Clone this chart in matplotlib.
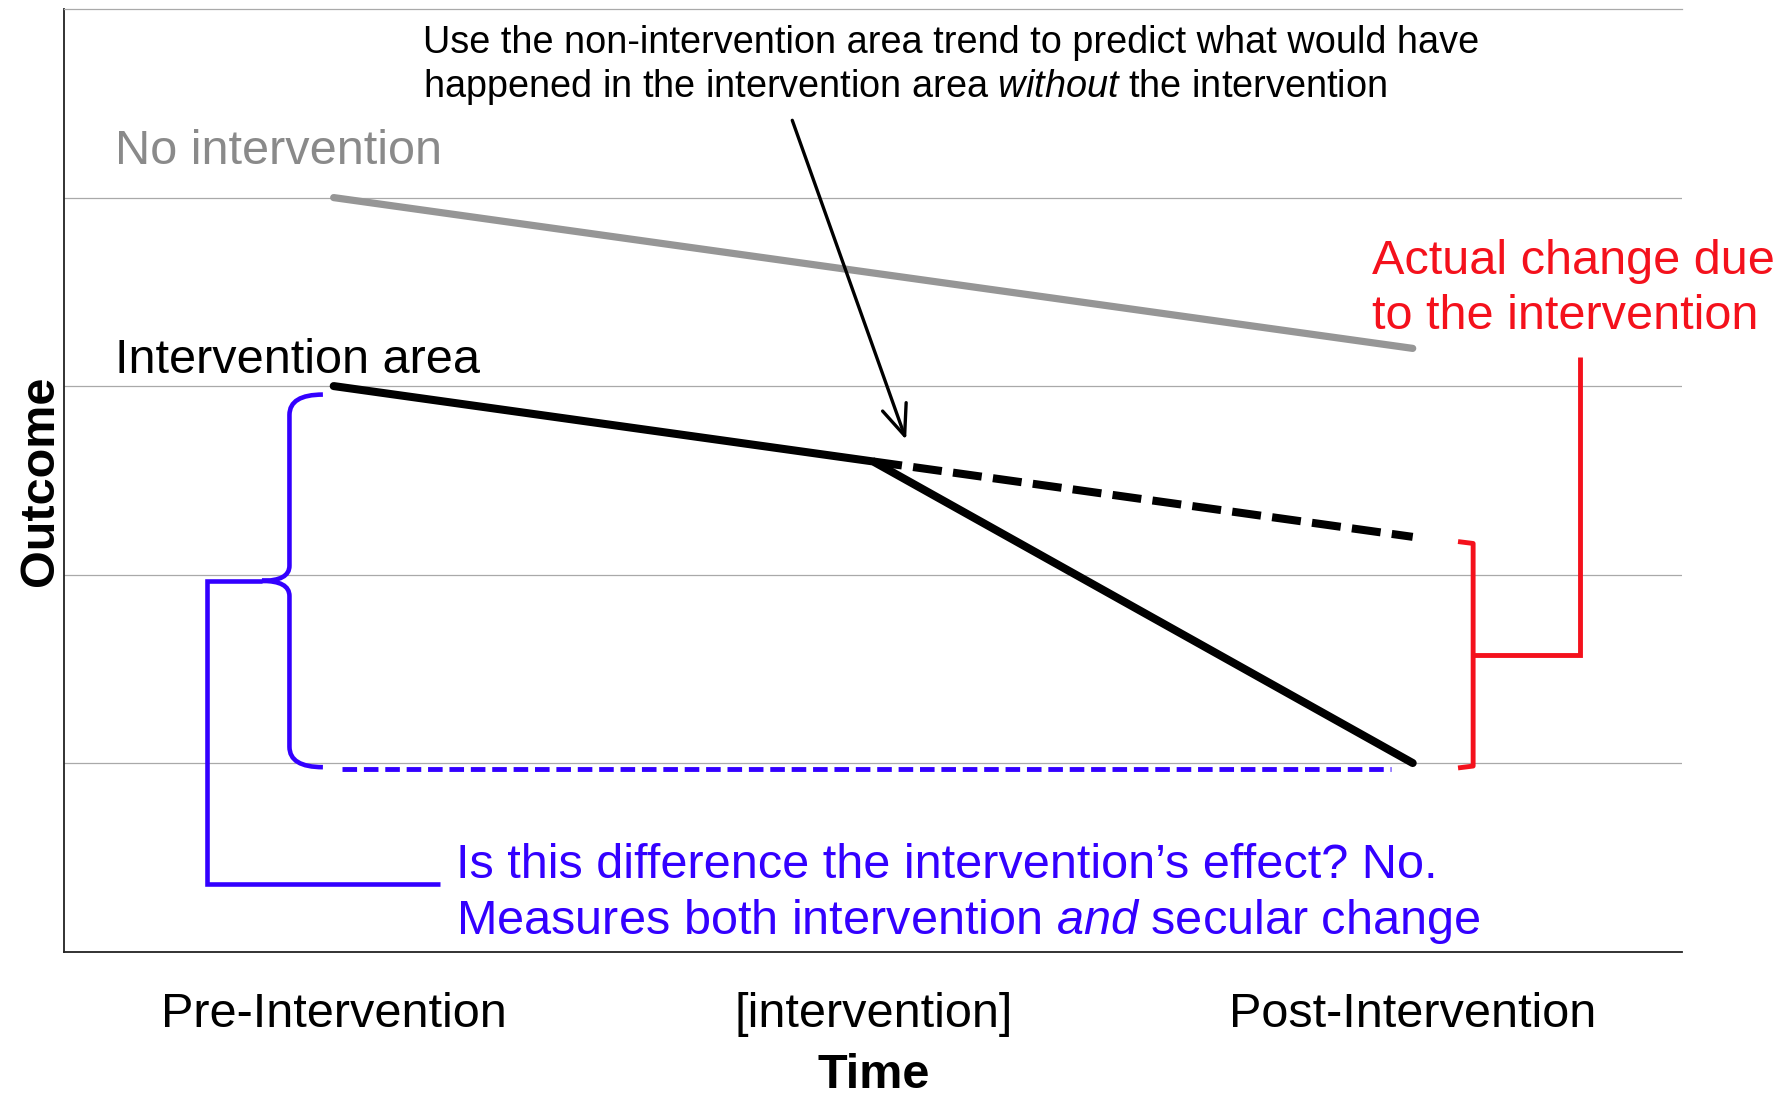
import matplotlib.pyplot as plt
from matplotlib.path import Path
from matplotlib.patches import PathPatch

plt.rcParams['font.family'] = ['Liberation Sans', 'DejaVu Sans']
plt.rcParams['mathtext.fontset'] = 'custom'
plt.rcParams['mathtext.rm'] = 'Liberation Sans'
plt.rcParams['mathtext.it'] = 'Liberation Sans:italic'

# ---------------- data ----------------
time_labels = ['Pre-Intervention', '[intervention]', 'Post-Intervention']
time_pos = [0, 1, 2]

no_intervention = [4.0, 3.6, 3.2]        # comparison area trend
intervention_area = [3.0, 2.6, 1.0]      # observed in the intervention area
counterfactual_pos = [1, 2]
counterfactual = [2.6, 2.2]              # predicted without the intervention

pre_post_pos = [0.015, 1.96]             # dashed level of the post value
pre_post_level = [0.97, 0.97]

# ---------------- style ----------------
GRID = '#a9a9a9'
GRAY_LINE = '#969696'
GRAY_TEXT = '#8a8a8a'
BLUE = '#3300ff'
RED = '#f4111c'
BIG = 35

fig = plt.figure(figsize=(17.91, 10.99), dpi=100)
ax = fig.add_axes([0.0357, 0.1342, 0.9037, 0.8575])
ax.set_xlim(-0.5, 2.5)
ax.set_ylim(0, 5)

ax.set_yticks([1, 2, 3, 4])
ax.yaxis.grid(True, color=GRID, lw=0.9)
ax.set_axisbelow(True)
ax.tick_params(axis='y', length=0, labelleft=False)
ax.set_xticks(time_pos)
ax.set_xticklabels(time_labels, fontsize=BIG)
ax.tick_params(axis='x', length=0, pad=29)

ax.spines['right'].set_visible(False)
ax.spines['top'].set_color(GRID)
ax.spines['top'].set_linewidth(0.9)
for side in ['left', 'bottom']:
    ax.spines[side].set_color('#222222')
    ax.spines[side].set_linewidth(1.3)

ax.set_xlabel('Time', fontsize=BIG, fontweight='bold', labelpad=12)
ax.set_ylabel('Outcome', fontsize=BIG, fontweight='bold', labelpad=1)

# ---------------- lines ----------------
ax.plot(time_pos, no_intervention, color=GRAY_LINE, lw=5.2, solid_capstyle='round')
ax.plot(time_pos, intervention_area, color='black', lw=5.8,
        solid_capstyle='round', solid_joinstyle='miter')
ax.plot(counterfactual_pos, counterfactual, color='black', lw=5.8,
        dashes=(3.6, 1.4), dash_capstyle='butt')
ax.plot(pre_post_pos, pre_post_level, color=BLUE, lw=3.5,
        dashes=(3.0, 1.4), dash_capstyle='butt')


# ---------------- braces and brackets ----------------
def curly_brace(ax, x, y_top, y_mid, y_bot, arm, tip, r_end, r_mid, **kw):
    verts = [(x + arm, y_top), (x, y_top), (x, y_top - r_end),
             (x, y_mid + r_mid), (x, y_mid), (x - tip, y_mid),
             (x, y_mid), (x, y_mid - r_mid),
             (x, y_bot + r_end), (x, y_bot), (x + arm, y_bot)]
    codes = [Path.MOVETO, Path.CURVE3, Path.CURVE3, Path.LINETO,
             Path.CURVE3, Path.CURVE3, Path.CURVE3, Path.CURVE3,
             Path.LINETO, Path.CURVE3, Path.CURVE3]
    ax.add_patch(PathPatch(Path(verts, codes), fill=False, **kw))


brace_x = -0.082
brace_top = intervention_area[0] - 0.045
brace_bot = pre_post_level[0] + 0.008
brace_mid = (brace_top + brace_bot) / 2
brace_tip = 0.051
curly_brace(ax, brace_x, brace_top, brace_mid, brace_bot, arm=0.062, tip=brace_tip,
            r_end=0.108, r_mid=0.08, color=BLUE, lw=3.3)

# blue bracket to the question text
ax.plot([brace_x - brace_tip, -0.234, -0.234, 0.197],
        [brace_mid, brace_mid, 0.36, 0.36],
        color=BLUE, lw=3.3, solid_joinstyle='miter', solid_capstyle='butt')

# red bracket: difference between counterfactual and observed post values
red_x = 2.112
red_top = counterfactual[-1] - 0.025
red_bot = intervention_area[-1] - 0.026
red_mid = (red_top + red_bot) / 2
ax.plot([red_x - 0.028, red_x, red_x, red_x - 0.028],
        [red_top, red_top - 0.01, red_bot + 0.01, red_bot],
        color=RED, lw=3.5, solid_joinstyle='round', solid_capstyle='butt')
ax.plot([red_x, 2.310, 2.310], [red_mid, red_mid, 3.153],
        color=RED, lw=3.5, solid_joinstyle='miter', solid_capstyle='butt')

# ---------------- text ----------------
ax.text(0.166, 4.765, 'Use the non-intervention area trend to predict what would have',
        fontsize=27.3, va='baseline')
ax.text(0.166, 4.532, r'happened in the intervention area $\mathit{without}$ the intervention',
        fontsize=27.3, va='baseline')
ax.annotate('', xy=(1.061, 2.715), xytext=(0.85, 4.41),
            arrowprops=dict(arrowstyle='->,head_length=1.1,head_width=0.45',
                            lw=2.4, color='black', shrinkA=0, shrinkB=0,
                            mutation_scale=20))

ax.text(-0.406, 4.177, 'No intervention', color=GRAY_TEXT, fontsize=BIG, va='baseline')
ax.text(-0.406, 3.071, 'Intervention area', color='black', fontsize=BIG, va='baseline')

ax.text(1.924, 3.593, 'Actual change due', color=RED, fontsize=BIG,
        va='baseline', clip_on=False)
ax.text(1.924, 3.301, 'to the intervention', color=RED, fontsize=BIG,
        va='baseline', clip_on=False)

ax.text(0.226, 0.389, 'Is this difference the intervention\u2019s effect? No.',
        color=BLUE, fontsize=BIG, va='baseline')
ax.text(0.226, 0.0935, r'Measures both intervention $\mathit{and}$ secular change',
        color=BLUE, fontsize=BIG, va='baseline')

fig.savefig('out.png', dpi=100)
